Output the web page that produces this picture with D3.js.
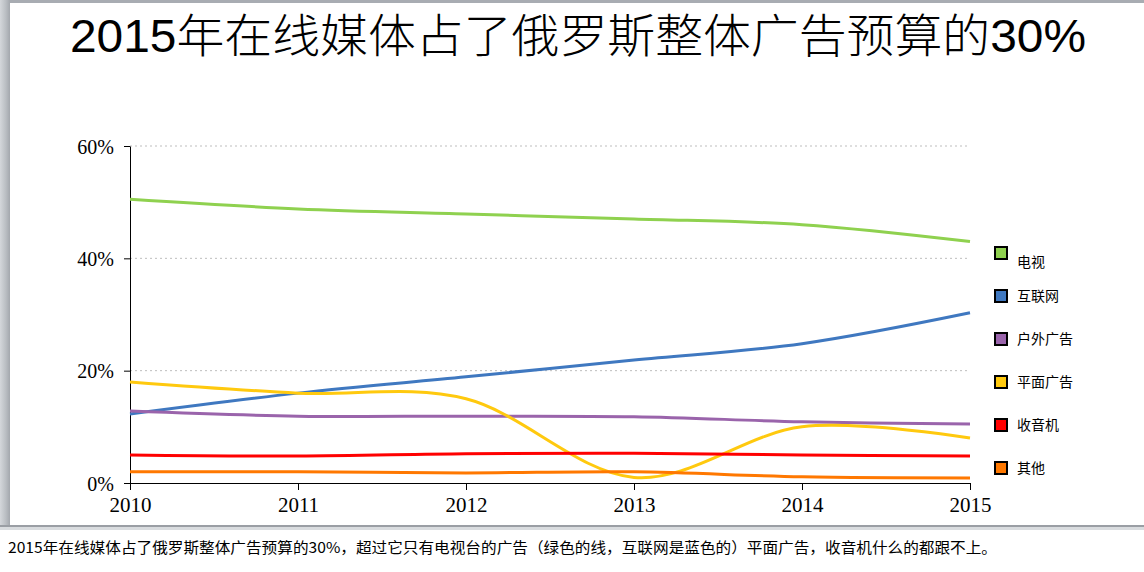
<!DOCTYPE html>
<html>
<head>
<meta charset="utf-8">
<script src="https://cdn.jsdelivr.net/npm/d3@7"></script>
<style>
  html, body { margin: 0; padding: 0; background: #fff; }
  svg { display: block; }
  .cjk { font-family: "Noto Sans CJK SC", "Noto Sans", sans-serif; }
  .title { font-family: "Liberation Sans", "Noto Sans CJK SC", sans-serif; font-weight: 300; }
  .axis text { font-family: "Liberation Serif", "DejaVu Serif", serif; fill: #000; }
</style>
</head>
<body>
<div id="chart"></div>
<script>
const YEARS = [2010, 2011, 2012, 2013, 2014, 2015];
const SERIES_NAMES = ["电视", "互联网", "户外广告", "平面广告", "收音机", "其他"];
const SERIES_COLORS = ["#8fd14f", "#3f78c0", "#9a64ab", "#ffc90e", "#ff0000", "#ff7800"];

const TV = [0.505, 0.488, 0.479, 0.470, 0.460, 0.430];
const INTERNET = [0.123, 0.160, 0.189, 0.219, 0.248, 0.303];
const OUTDOOR = [0.128, 0.119, 0.119, 0.118, 0.109, 0.105];
const PRINT = [0.180, 0.160, 0.150, 0.010, 0.100, 0.080];
const RADIO = [0.050, 0.048, 0.052, 0.053, 0.050, 0.048];
const OTHER = [0.020, 0.020, 0.018, 0.020, 0.011, 0.009];

const Y_TICKS = [0, 0.2, 0.4, 0.6];
const TITLE = "2015年在线媒体占了俄罗斯整体广告预算的30%";
const CAPTION = "2015年在线媒体占了俄罗斯整体广告预算的30%，超过它只有电视台的广告（绿色的线，互联网是蓝色的）平面广告，收音机什么的都跟不上。";

const seriesValues = [TV, INTERNET, OUTDOOR, PRINT, RADIO, OTHER];

const W = 1144, H = 572;
const svg = d3.select("#chart").append("svg").attr("width", W).attr("height", H);

// window frame
const defs = svg.append("defs");
const grad = defs.append("linearGradient").attr("id", "leftEdge");
grad.append("stop").attr("offset", "0%").attr("stop-color", "#d4d7db");
grad.append("stop").attr("offset", "60%").attr("stop-color", "#b9bdc2");
grad.append("stop").attr("offset", "100%").attr("stop-color", "#a3a7ad");

svg.append("rect").attr("x", 0).attr("y", 0).attr("width", W).attr("height", 3).attr("fill", "#a8acb2");
svg.append("rect").attr("x", 0).attr("y", 0).attr("width", 10).attr("height", 526).attr("fill", "url(#leftEdge)");
svg.append("rect").attr("x", 0).attr("y", 525).attr("width", W).attr("height", 2).attr("fill", "#9a9ea4");
svg.append("rect").attr("x", 0).attr("y", 527).attr("width", W).attr("height", 3).attr("fill", "#d9dcdf");

// title
svg.append("text").attr("class", "title")
  .attr("x", 578).attr("y", 52)
  .attr("text-anchor", "middle")
  .attr("font-size", 46)
  .attr("textLength", 1016)
  .attr("lengthAdjust", "spacingAndGlyphs")
  .text(TITLE);

const x = d3.scaleLinear().domain([2010, 2015]).range([130, 970]);
const y = d3.scaleLinear().domain([0, 0.6]).range([483, 146]);

// grid
svg.append("g").selectAll("line")
  .data(Y_TICKS.filter((d) => d > 0))
  .join("line")
  .attr("x1", x(2010)).attr("x2", x(2015))
  .attr("y1", (d) => y(d)).attr("y2", (d) => y(d))
  .attr("stroke", "#bdbdbd")
  .attr("stroke-dasharray", "2,3");

// axes
svg.append("g").attr("class", "axis")
  .attr("transform", `translate(${x(2010)},0)`)
  .call(d3.axisLeft(y).tickValues(Y_TICKS).tickFormat(d3.format(".0%")).tickSize(6).tickSizeOuter(0).tickPadding(10))
  .call((g) => g.selectAll("text").attr("font-size", 20).attr("dy", "0.36em"))
  .call((g) => g.selectAll("line, path").attr("stroke", "#000"));

svg.append("g").attr("class", "axis")
  .attr("transform", `translate(0,${y(0)})`)
  .call(d3.axisBottom(x).tickValues(YEARS).tickFormat(d3.format("d")).tickSize(7).tickSizeOuter(0).tickPadding(7))
  .call((g) => g.selectAll("text").attr("font-size", 21))
  .call((g) => g.selectAll("line, path").attr("stroke", "#000"));

// lines
const line = d3.line()
  .x((d, i) => x(YEARS[i]))
  .y((d) => y(d))
  .curve(d3.curveCardinal.tension(0));

svg.append("g").selectAll("path")
  .data(seriesValues)
  .join("path")
  .attr("d", (d) => line(d))
  .attr("fill", "none")
  .attr("stroke", (d, i) => SERIES_COLORS[i])
  .attr("stroke-width", 3)
  .attr("stroke-linejoin", "round");

// legend
const legend = svg.append("g").selectAll("g")
  .data(SERIES_NAMES)
  .join("g")
  .attr("transform", (d, i) => `translate(995,${253 + i * 43})`);

legend.append("rect")
  .attr("x", 0).attr("y", -6)
  .attr("width", 12).attr("height", 12)
  .attr("fill", (d, i) => SERIES_COLORS[i])
  .attr("stroke", "#000")
  .attr("stroke-width", 2);

legend.append("text").attr("class", "cjk")
  .attr("x", 22)
  .attr("y", (d, i) => (i === 0 ? 9 : 0))
  .attr("dy", "0.35em")
  .attr("font-size", 14)
  .text((d) => d);

// caption
svg.append("text").attr("class", "cjk")
  .attr("x", 8).attr("y", 553)
  .attr("font-size", 15)
  .attr("textLength", 989)
  .attr("lengthAdjust", "spacingAndGlyphs")
  .text(CAPTION);
</script>
</body>
</html>
